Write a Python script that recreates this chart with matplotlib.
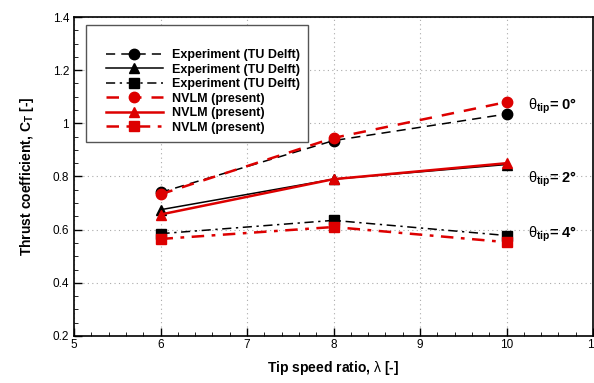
import matplotlib
matplotlib.use("Agg")
import matplotlib.pyplot as plt
from matplotlib.patches import Rectangle
from matplotlib.ticker import MultipleLocator

plt.rcParams['font.family'] = ['Liberation Sans', 'DejaVu Sans']
plt.rcParams['mathtext.fontset'] = 'custom'
plt.rcParams['mathtext.rm'] = 'Liberation Sans'
plt.rcParams['mathtext.bf'] = 'Liberation Sans:bold'
plt.rcParams['mathtext.it'] = 'Liberation Serif:italic'

tsr = [6, 8, 10]
exp_0 = [0.740, 0.935, 1.035]
exp_2 = [0.675, 0.790, 0.845]
exp_4 = [0.585, 0.635, 0.578]
nvlm_0 = [0.733, 0.945, 1.080]
nvlm_2 = [0.657, 0.790, 0.850]
nvlm_4 = [0.565, 0.610, 0.553]

labels = ["Experiment (TU Delft)"] * 3 + ["NVLM (present)"] * 3
red = '#dd0000'

fig = plt.figure(figsize=(5.94, 3.83), dpi=100)
ax = fig.add_axes([74/594, 47/383, (593-74)/594, (336-17)/383])

ax.set_xlim(5, 11)
ax.set_ylim(0.2, 1.4)
ax.xaxis.set_major_locator(MultipleLocator(1))
ax.xaxis.set_minor_locator(MultipleLocator(0.2))
ax.yaxis.set_major_locator(MultipleLocator(0.2))
ax.yaxis.set_minor_locator(MultipleLocator(0.05))
ax.tick_params(which='both', direction='in', top=False, right=False, labelsize=8.5)
ax.tick_params(axis='x', pad=2)
ax.tick_params(which='major', length=6, width=1)
ax.tick_params(which='minor', length=3, width=0.6)
ax.grid(True, which='major', color='#aaaaaa', linestyle=(0, (1, 3)), linewidth=0.8)
for s in ax.spines.values():
    s.set_linewidth(1.2)
ax.set_xticks([5, 6, 7, 8, 9, 10, 11])
ax.set_xticklabels(['5', '6', '7', '8', '9', '10', '11'])
ax.set_yticks([0.2, 0.4, 0.6, 0.8, 1.0, 1.2, 1.4])
ax.set_yticklabels(['0.2', '0.4', '0.6', '0.8', '1', '1.2', '1.4'])

h = []
h += ax.plot(tsr, exp_0, color='k', lw=1.1, ls=(0, (6, 4)), marker='o', ms=7.5)
h += ax.plot(tsr, exp_2, color='k', lw=1.1, ls='-', marker='^', ms=7.5)
h += ax.plot(tsr, exp_4, color='k', lw=1.1, ls=(0, (6, 3, 1.5, 3)), marker='s', ms=6.5)
h += ax.plot(tsr, nvlm_0, color=red, lw=1.8, ls=(0, (5, 4)), marker='o', ms=7.5)
h += ax.plot(tsr, nvlm_2, color=red, lw=1.8, ls='-', marker='^', ms=7.5)
h += ax.plot(tsr, nvlm_4, color=red, lw=1.8, ls=(0, (5, 3, 1.5, 3)), marker='s', ms=6.5)
for line in h:
    line.set_clip_on(False)

# legend box
ax.add_patch(Rectangle((86/594, (383-142)/383), (308-86)/594, (142-25)/383,
                       transform=fig.transFigure, facecolor='white', edgecolor='#555555',
                       lw=1.0, zorder=4))
leg = ax.legend(h, labels, loc='upper left', bbox_to_anchor=(100/594, (383-43)/383),
                bbox_transform=fig.transFigure, frameon=False,
                prop={'weight': 'bold', 'size': 9}, handlelength=4.5,
                handletextpad=0.8, labelspacing=0.2, borderpad=0)
leg.set_zorder(5)

ax.set_xlabel(r'Tip speed ratio, $\mathrm{\lambda}$ [-]', fontsize=10, fontweight='bold', labelpad=6)
ax.set_ylabel(r'Thrust coefficient, C$_\mathbf{T}$ [-]', fontsize=10, fontweight='bold', labelpad=12)

ann = dict(fontsize=10.5, fontweight='bold', va='center', ha='left')
ax.text(10.25, 1.065, r'$\mathrm{\theta}_{\mathbf{tip}}$= 0°', **ann)
ax.text(10.25, 0.79, r'$\mathrm{\theta}_{\mathbf{tip}}$= 2°', **ann)
ax.text(10.25, 0.58, r'$\mathrm{\theta}_{\mathbf{tip}}$= 4°', **ann)

fig.savefig('out.png', dpi=100)
